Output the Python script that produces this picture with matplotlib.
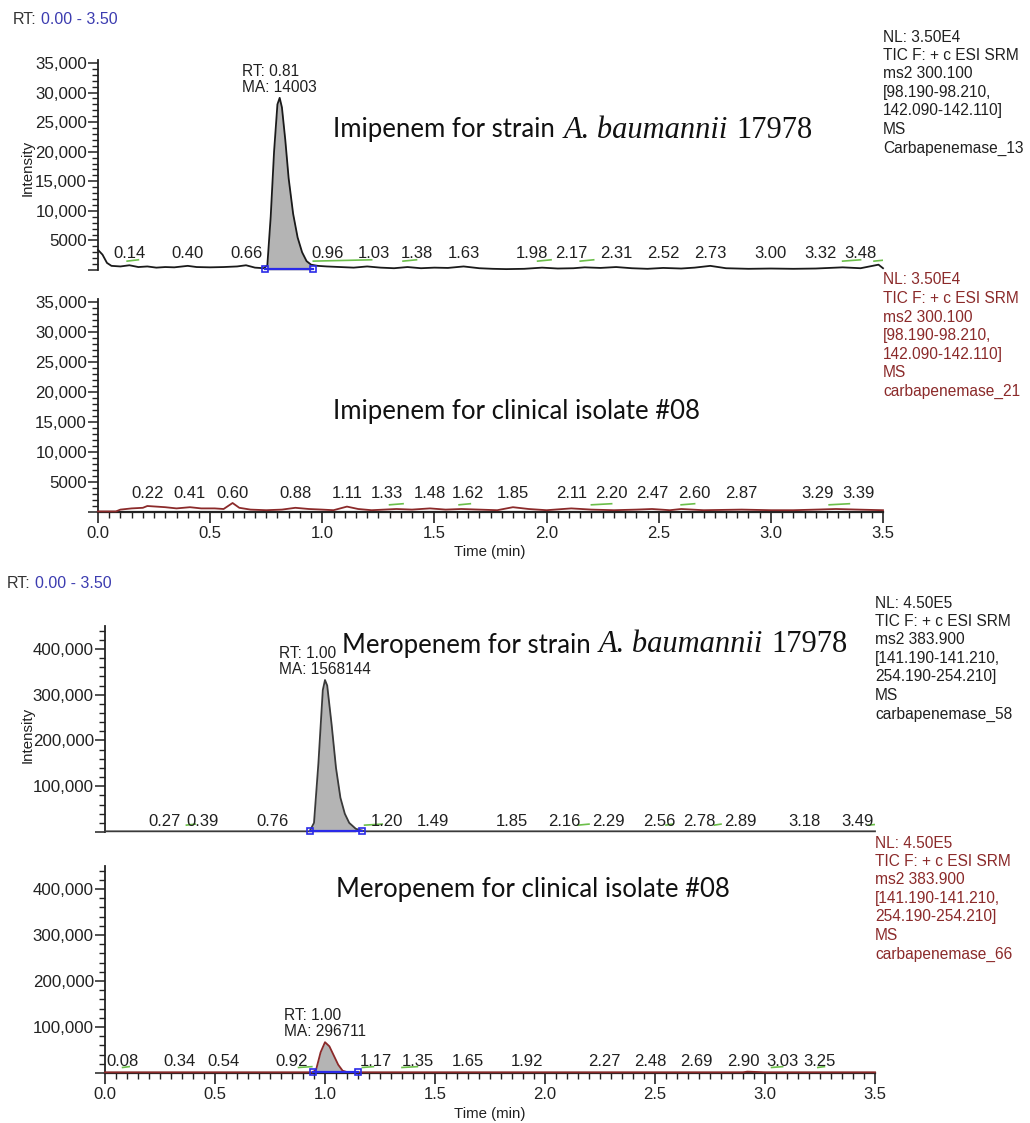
import matplotlib
matplotlib.use("Agg")
import matplotlib.pyplot as plt
import numpy as np
from matplotlib.ticker import MultipleLocator, FuncFormatter
from matplotlib.offsetbox import TextArea, HPacker, AnchoredOffsetbox

plt.rcParams['font.family'] = ['Liberation Sans', 'DejaVu Sans']

# ---------------- data ----------------
# Panel 1: Imipenem, strain A. baumannii 17978
p1_t = [0.00, 0.02, 0.04, 0.06, 0.10, 0.14, 0.18, 0.22, 0.26, 0.30, 0.34, 0.40, 0.44, 0.50,
        0.56, 0.62, 0.66, 0.70, 0.74, 0.755, 0.77, 0.785, 0.80, 0.81, 0.82, 0.835, 0.85, 0.87,
        0.89, 0.91, 0.93, 0.95, 0.98, 1.02, 1.08, 1.14, 1.20, 1.26, 1.32, 1.38, 1.44, 1.50,
        1.56, 1.63, 1.70, 1.76, 1.82, 1.90, 1.98, 2.05, 2.12, 2.17, 2.24, 2.31, 2.38, 2.45,
        2.52, 2.60, 2.66, 2.73, 2.80, 2.90, 3.00, 3.10, 3.20, 3.32, 3.40, 3.48, 3.50]
p1_i = [3400, 2600, 1200, 700, 600, 800, 500, 600, 400, 500, 450, 700, 500, 450,
        500, 600, 800, 400, 300, 800, 9000, 20000, 28000, 29100, 27500, 22000, 15500, 9500,
        5500, 3000, 1500, 900, 700, 600, 500, 400, 600, 400, 300, 500, 300, 400,
        350, 600, 300, 200, 150, 200, 400, 250, 300, 450, 350, 500, 300, 200,
        350, 250, 400, 700, 300, 200, 250, 200, 250, 450, 300, 900, 300]
p1_labels = ["0.14", "0.40", "0.66", "0.96", "1.03", "1.38", "1.63", "1.98", "2.17", "2.31",
             "2.52", "2.73", "3.00", "3.32", "3.48"]

# Panel 2: Imipenem, clinical isolate #08
p2_t = [0.00, 0.08, 0.10, 0.15, 0.20, 0.22, 0.26, 0.30, 0.35, 0.41, 0.46, 0.52, 0.56, 0.60,
        0.63, 0.68, 0.75, 0.82, 0.88, 0.94, 1.00, 1.05, 1.11, 1.16, 1.22, 1.33, 1.40, 1.48,
        1.55, 1.62, 1.70, 1.78, 1.85, 1.92, 2.00, 2.11, 2.20, 2.30, 2.40, 2.47, 2.55, 2.60,
        2.70, 2.87, 3.00, 3.10, 3.20, 3.29, 3.39, 3.50]
p2_i = [100, 100, 400, 600, 700, 1000, 900, 800, 600, 800, 600, 600, 500, 1500,
        700, 400, 300, 400, 700, 500, 400, 300, 900, 500, 300, 500, 400, 600,
        400, 500, 400, 300, 800, 500, 300, 600, 400, 300, 400, 500, 300, 500,
        300, 400, 300, 300, 400, 500, 400, 300]
p2_labels = ["0.22", "0.41", "0.60", "0.88", "1.11", "1.33", "1.48", "1.62", "1.85", "2.11",
             "2.20", "2.47", "2.60", "2.87", "3.29", "3.39"]

# Panel 3: Meropenem, strain A. baumannii 17978
p3_t = [0.00, 0.50, 0.90, 0.93, 0.95, 0.97, 0.99, 1.00, 1.01, 1.03, 1.05, 1.07, 1.09, 1.11,
        1.14, 1.18, 1.50, 2.00, 2.50, 3.00, 3.50]
p3_i = [1500, 1500, 1500, 1500, 20000, 150000, 310000, 332000, 320000, 235000, 140000, 75000,
        40000, 20000, 7000, 1500, 1500, 1500, 1500, 1500, 1500]
p3_labels = ["0.27", "0.39", "0.76", "1.20", "1.49", "1.85", "2.16", "2.29", "2.56", "2.78",
             "2.89", "3.18", "3.49"]

# Panel 4: Meropenem, clinical isolate #08
p4_t = [0.00, 0.50, 0.92, 0.945, 0.96, 0.98, 1.00, 1.02, 1.04, 1.06, 1.08, 1.10, 1.12,
        1.20, 1.60, 2.00, 2.50, 2.90, 2.92, 3.00, 3.50]
p4_i = [1500, 1500, 1500, 1500, 8000, 45000, 67000, 58000, 38000, 18000, 5000, 2000, 1500,
        1500, 1500, 1500, 1500, 1500, 3000, 1500, 1500]
p4_labels = ["0.08", "0.34", "0.54", "0.92", "1.17", "1.35", "1.65", "1.92", "2.27", "2.48",
             "2.69", "2.90", "3.03", "3.25"]

# integrated peaks: (rt, area, start, end)
p1_peak = (0.81, "14003", 0.745, 0.96)
p3_peak = (1.00, "1568144", 0.93, 1.17)
p4_peak = (1.00, "296711", 0.945, 1.15)

# green annotation segments (start, end)
p1_green = [(0.13, 0.18), (0.96, 1.22), (1.36, 1.42), (1.96, 2.02), (2.15, 2.21), (3.32, 3.40), (3.46, 3.52)]
p2_green = [(1.30, 1.36), (1.61, 1.66), (2.20, 2.29), (2.60, 2.66), (3.26, 3.35)]
p3_green = [(0.37, 0.41), (1.18, 1.26), (2.15, 2.20), (2.55, 2.58), (2.77, 2.80), (3.47, 3.52)]
p4_green = [(0.08, 0.11), (0.88, 0.94), (1.17, 1.22), (1.35, 1.42), (3.03, 3.08), (3.24, 3.27)]

p1_info = ["NL: 3.50E4", "TIC F: + c ESI SRM", "ms2 300.100", "[98.190-98.210,",
           "142.090-142.110]", "MS", "Carbapenemase_13"]
p2_info = ["NL: 3.50E4", "TIC F: + c ESI SRM", "ms2 300.100", "[98.190-98.210,",
           "142.090-142.110]", "MS", "carbapenemase_21"]
p3_info = ["NL: 4.50E5", "TIC F: + c ESI SRM", "ms2 383.900", "[141.190-141.210,",
           "254.190-254.210]", "MS", "carbapenemase_58"]
p4_info = ["NL: 4.50E5", "TIC F: + c ESI SRM", "ms2 383.900", "[141.190-141.210,",
           "254.190-254.210]", "MS", "carbapenemase_66"]

titles = [("Imipenem for strain", "A. baumannii", "17978"),
          ("Imipenem for clinical isolate #08", None, None),
          ("Meropenem for strain", "A. baumannii", "17978"),
          ("Meropenem for clinical isolate #08", None, None)]

# ---------------- layout (label de-cluttering shifts, in minutes) ----------------
p1_shift = {"0.96": 0.065, "1.03": 0.20, "1.38": 0.04, "1.98": -0.045, "2.17": -0.06,
            "3.32": -0.10, "3.48": -0.08}
p2_shift = {"1.33": -0.04, "1.62": 0.03, "2.20": 0.09, "2.60": 0.06, "3.29": -0.08}
p3_shift = {"0.39": 0.055, "1.20": 0.08, "2.16": -0.07, "2.56": -0.04, "2.78": -0.08,
            "3.49": -0.07}
p4_shift = {"0.92": -0.07, "1.17": 0.06, "1.35": 0.07, "3.03": 0.05}

# ---------------- figure ----------------
W, H = 1030, 1123
fig = plt.figure(figsize=(W / 100, H / 100), dpi=100)

BLACK = "#1a1a1a"
MAROON = "#8b2a2a"
TXT = "#202020"
BLUE = "#2a2ae8"
GREEN = "#6cbf4a"
FILL = "#b4b4b4"


def px_axes(left, right, top, bottom):
    return fig.add_axes([left / W, 1 - bottom / H, (right - left) / W, (bottom - top) / H])


def fx(x):
    return x / W


def fy(y):
    return 1 - y / H


ax1 = px_axes(98, 883, 60, 270)
ax2 = px_axes(98, 883, 299, 512)
ax3 = px_axes(105, 875, 626, 832)
ax4 = px_axes(105, 875, 866, 1073)

panels = [
    (ax1, p1_t, p1_i, p1_labels, p1_shift, p1_peak, p1_green, BLACK, 35500, 5000, 1000, False, 9, 1500),
    (ax2, p2_t, p2_i, p2_labels, p2_shift, None, p2_green, MAROON, 35500, 5000, 1000, True, 11, 1200),
    (ax3, p3_t, p3_i, p3_labels, p3_shift, p3_peak, p3_green, "#3a3a3a", 450000, 100000, 20000, False, 3.5, 15000),
    (ax4, p4_t, p4_i, p4_labels, p4_shift, p4_peak, p4_green, MAROON, 450000, 100000, 20000, True, 4, 12000),
]


def yfmt(v, pos):
    if v <= 0:
        return ""
    if v < 10000:
        return f"{int(v)}"
    return f"{int(v):,}"


for (ax, t, inten, labels, shifts, peak, greens, col, ytop, ymaj, ymin, xaxis, loff, gy) in panels:
    ax.set_xlim(0, 3.5)
    ax.set_ylim(0, ytop)
    ax.patch.set_alpha(0)
    for s in ["top", "right"]:
        ax.spines[s].set_visible(False)
    ax.spines["left"].set_linewidth(1.3)
    ax.spines["left"].set_color("#222222")
    ax.yaxis.set_major_locator(MultipleLocator(ymaj))
    ax.yaxis.set_minor_locator(MultipleLocator(ymin))
    ax.yaxis.set_major_formatter(FuncFormatter(yfmt))
    ax.tick_params(axis="y", which="major", length=7, width=1.1, labelsize=12.2, pad=1, colors="#222222")
    ax.tick_params(axis="y", which="minor", length=4, width=1.0, colors="#222222")
    if xaxis:
        ax.spines["bottom"].set_linewidth(1.6)
        ax.spines["bottom"].set_color("#222222")
        ax.xaxis.set_major_locator(MultipleLocator(0.5))
        ax.xaxis.set_minor_locator(MultipleLocator(0.05))
        ax.xaxis.set_major_formatter(FuncFormatter(lambda v, p: f"{v:.1f}"))
        ax.tick_params(axis="x", which="major", length=8, width=1.2, labelsize=12, pad=2, colors="#222222")
        ax.tick_params(axis="x", which="minor", length=4, width=1.0, colors="#222222")
    else:
        ax.spines["bottom"].set_visible(False)
        ax.set_xticks([])

    ax.plot(t, inten, color=col, lw=1.3, zorder=3, clip_on=False)

    if peak is not None:
        rt, area, ps, pe = peak
        tt = np.array(t)
        ii = np.array(inten)
        m = (tt >= ps) & (tt <= pe)
        ax.fill_between(tt[m], 0, ii[m], color=FILL, zorder=2, lw=0)
        ax.plot([ps, pe], [ytop * 0.003, ytop * 0.003], color=BLUE, lw=1.6, zorder=4,
                marker="s", ms=5, mfc="none", mec=BLUE, mew=1.2, clip_on=False)
        hmax = max(inten)
        ma = ax.annotate(f"MA: {area}", xy=(rt, hmax), xytext=(0, 2),
                         textcoords="offset points", ha="center", va="bottom", fontsize=11.2,
                         color=TXT)
        ax.annotate(f"RT: {rt:.2f}", xy=(0, 1), xycoords=ma, xytext=(0, 0.8),
                    textcoords="offset points", ha="left", va="bottom", fontsize=11.2, color=TXT)

    for g0, g1 in greens:
        ax.plot([g0, g1], [gy, gy * 1.15], color=GREEN, lw=1.2, zorder=2)

    for lab in labels:
        x = float(lab) + shifts.get(lab, 0.0)
        ax.annotate(lab, xy=(x, 0), xytext=(0, loff * 0.72), textcoords="offset points",
                    ha="center", va="bottom", fontsize=12, color=TXT, zorder=5)

# axis labels
fig.text(fx(28), fy(168), "Intensity", rotation=90, ha="center", va="center", fontsize=10.8, color=TXT)
fig.text(fx(28), fy(735), "Intensity", rotation=90, ha="center", va="center", fontsize=10.8, color=TXT)
fig.text(fx(490), fy(552), "Time (min)", ha="center", va="center", fontsize=10.8, color=TXT)
fig.text(fx(490), fy(1114), "Time (min)", ha="center", va="center", fontsize=10.8, color=TXT)

# RT headers
for xx, yy in [(13, 20), (7, 583)]:
    ta = TextArea("RT:", textprops=dict(fontsize=11.5, color="#333333"))
    tb = TextArea("0.00 - 3.50", textprops=dict(fontsize=11.5, color="#3c3cb0"))
    box = HPacker(children=[ta, tb], align="baseline", pad=0, sep=3)
    anc = AnchoredOffsetbox(loc="center left", child=box, pad=0, frameon=False,
                            bbox_to_anchor=(fx(xx), fy(yy)), bbox_transform=fig.transFigure,
                            borderpad=0)
    fig.add_artist(anc)

# right-side info blocks (one text per line)
for info, x0, y0, col in [(p1_info, 883, 37, TXT), (p2_info, 883, 280, MAROON),
                          (p3_info, 875, 603, TXT), (p4_info, 875, 843, MAROON)]:
    for k, line in enumerate(info):
        fig.text(fx(x0), fy(y0 + k * 18.5), line, ha="left", va="center", fontsize=11.2, color=col)

# panel titles
for (main, ital, num), ycen, xl in zip(titles, [130, 412, 645, 890], [333, 333, 342, 336]):
    children = [TextArea(main, textprops=dict(fontsize=18.5, family=["Lato", "DejaVu Sans"], color="#111111"))]
    if ital:
        children.append(TextArea(ital, textprops=dict(fontsize=22, family=["Liberation Serif"],
                                                      style="italic", color="#111111")))
        children.append(TextArea(num, textprops=dict(fontsize=22, family=["Liberation Serif"],
                                                     color="#111111")))
    box = HPacker(children=children, align="baseline", pad=0, sep=6)
    anc = AnchoredOffsetbox(loc="center left", child=box, pad=0, frameon=False,
                            bbox_to_anchor=(fx(xl), fy(ycen)), bbox_transform=fig.transFigure,
                            borderpad=0)
    fig.add_artist(anc)

fig.savefig("out.png", dpi=100)
